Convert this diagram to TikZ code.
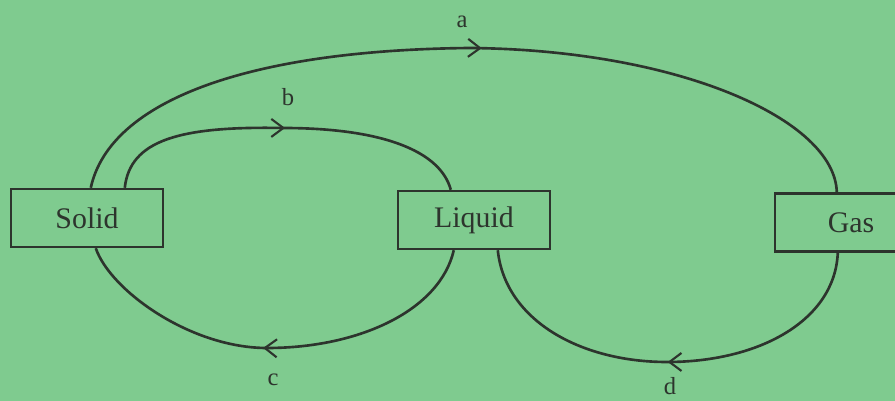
\documentclass[tikz,border=0pt]{standalone}
\usepackage{xcolor}
\usepackage{fontspec}
\setmainfont{Liberation Serif}
\usepackage{tikz}
\usetikzlibrary{arrows.meta, calc, decorations.markings}
\definecolor{papergreen}{RGB}{127,203,143}
\definecolor{inkdark}{RGB}{45,52,45}
\tikzset{
  phase/.style={rectangle, draw=inkdark, line width=1.4pt,
    minimum width=3.04cm, minimum height=1.16cm, inner sep=0pt,
    font=\fontsize{17}{20}\selectfont, text=inkdark},
  flow/.style={line width=1.5pt, color=inkdark},
  midarrow/.style={postaction={decorate}, decoration={markings,
    mark=at position #1 with {\arrow{Straight Barb[length=2.4mm,width=3.6mm,line width=1.2pt]}}}},
  tag/.style={font=\fontsize{14}{16}\selectfont, text=inkdark}
}
\begin{document}
\begin{tikzpicture}[x=0.02cm, y=-0.02cm]
  \useasboundingbox (0,0) rectangle (895,401);
  \clip (0,0) rectangle (895,401);
  \fill[papergreen] (0,0) rectangle (895,401);

  \node[phase] (solid) at (87,218) {Solid};
  \node[phase] (liquid) at (474,220) {Liquid};
  \node[phase] (gas) at (851,222.5) {Gas};

  \coordinate (atop) at (470,48);
  \coordinate (btop) at (283,128);
  \coordinate (cbot) at (267,348);
  \coordinate (dbot) at (667,362);

  \draw[flow, midarrow=0.52] ($(solid.north west)+(81,0)$)
    .. controls (110,100) and (250,50) .. (atop)
    .. controls (680,50) and (835,120) .. ($(gas.north west)+(63,0)$);
  \draw[flow, midarrow=0.5] ($(solid.north west)+(115,0)$)
    .. controls (130,140) and (180,126) .. (btop)
    .. controls (380,128) and (440,150) .. ($(liquid.north west)+(54,0)$);
  \draw[flow, midarrow=0.53] ($(liquid.south west)+(57,0)$)
    .. controls (440,310) and (360,348) .. (cbot)
    .. controls (190,348) and (110,290) .. ($(solid.south west)+(86,0)$);
  \draw[flow, midarrow=0.5] ($(gas.south west)+(64,0)$)
    .. controls (835,320) and (760,362) .. (dbot)
    .. controls (580,362) and (505,320) .. ($(liquid.south west)+(101,0)$);

  \node[tag] (la) at (462,22) {a};
  \node[tag] (lb) at (288,97) {b};
  \node[tag] (lc) at (273,380) {c};
  \node[tag] (ld) at (670,386) {d};
\end{tikzpicture}
\end{document}
